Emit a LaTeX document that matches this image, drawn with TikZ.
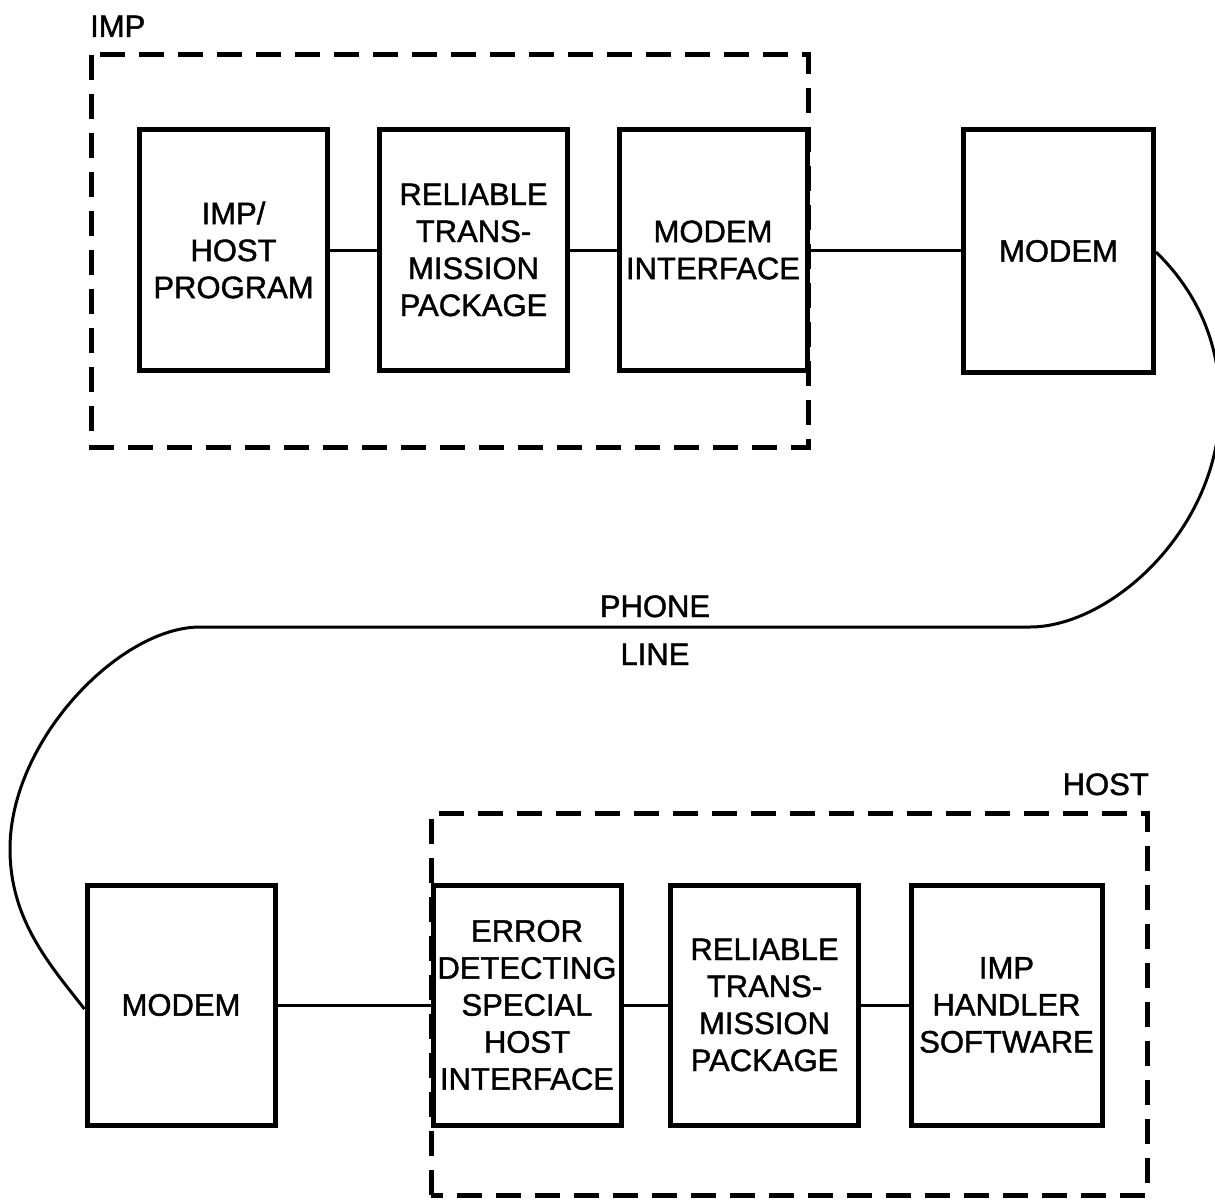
\documentclass[tikz,border=0pt]{standalone}
\usepackage{fontspec}
\setmainfont{Liberation Sans}
\newfontfamily\lettering{Liberation Sans}[FakeBold=1.3]
\begin{document}
\begin{tikzpicture}[x=1pt,y=-1pt,
  blk/.style={draw, line width=5pt, rectangle, inner sep=0pt, align=center,
    minimum width=188pt, minimum height=240pt},
  link/.style={line width=3pt},
  group/.style={line width=5pt, dash pattern=on 25pt off 14pt},
  lbl/.style={inner sep=0pt},
  every node/.style={font=\lettering\fontsize{31}{37}\selectfont}]
\fill[white] (0,0) rectangle (1215,1201);
\useasboundingbox (0,0) rectangle (1215,1201);

% IMP group
\draw[group] (91,55) rectangle (808,447);
\node[lbl, anchor=base west] (implbl) at (90,37) {IMP};

\node[blk] (b1) at (233.5,250) {IMP/\\HOST\\PROGRAM};
\node[blk] (b2) at (473.5,250) {RELIABLE\\TRANS-\\MISSION\\PACKAGE};
\node[blk] (b3) at (713,250) {MODEM\\INTERFACE};
\node[blk, minimum width=190pt, minimum height=242pt] (m1) at (1058.5,251) {MODEM};

\draw[link] (b1.east) -- (b2.west);
\draw[link] (b2.east) -- (b3.west);
\draw[link] (b3.east) -- (b3.east -| m1.west);

% HOST group
\draw[group] (431,1195) -- (431,813) -- (1147,813) -- (1147,1195) -- cycle;
\node[lbl, anchor=base east] (hostlbl) at (1149,795) {HOST};

\node[blk, minimum width=188pt] (m2) at (181,1005) {MODEM};
\node[blk] (e1) at (527,1005) {ERROR\\DETECTING\\SPECIAL\\HOST\\INTERFACE};
\node[blk] (r2) at (764.5,1005) {RELIABLE\\TRANS-\\MISSION\\PACKAGE};
\node[blk, minimum width=191pt] (h1) at (1006.5,1005) {IMP\\HANDLER\\SOFTWARE};

\draw[link] (m2.east) -- (e1.west);
\draw[link] (e1.east) -- (r2.west);
\draw[link] (r2.east) -- (h1.west);

% phone line
\coordinate (pr) at (1030,627);
\coordinate (pl) at (200,627);
\coordinate (rx) at (1220,405);
\coordinate (lx) at (10,849);
\draw[link] ([yshift=-1pt]m1.east) .. controls (1195,290) and (1220,340) .. (rx)
  .. controls (1220,530) and (1110,627) .. (pr) -- (pl)
  .. controls (120,627) and (10,740) .. (lx)
  .. controls (10,920) and (50,965) .. ([yshift=-4pt]m2.west);
\node[lbl, anchor=base] (phone) at (655,617) {PHONE};
\node[lbl, anchor=base] (line) at (655,665) {LINE};
\end{tikzpicture}
\end{document}
